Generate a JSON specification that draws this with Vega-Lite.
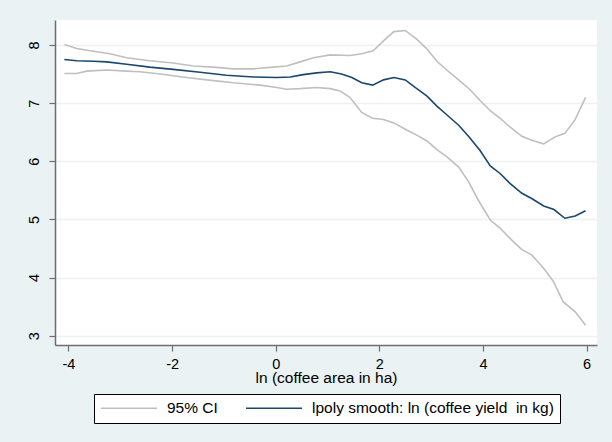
{
  "$schema": "https://vega.github.io/schema/vega-lite/v6.json",
  "autosize": {"type": "none"},
  "width": 542,
  "height": 325,
  "padding": {"left": 55, "top": 20, "right": 15, "bottom": 97},
  "background": "#EAF2F3",
  "config": {
    "font": "Liberation Sans",
    "view": {"fill": "white", "stroke": null},
    "axis": {"domainColor": "#6E6E6E", "domainWidth": 1.5, "tickColor": "#6E6E6E", "tickWidth": 1.2, "tickSize": 6, "labelFont": "Liberation Sans", "labelFontSize": 14.5, "labelColor": "black", "titleFont": "Liberation Sans", "titleFontWeight": "normal", "titleFontSize": 15.5, "titleColor": "black"}
  },
  "data": {"values": [
    {"x": -4.08, "y": 8.01, "s": "upper", "legend": "95% CI"},
    {"x": -3.84, "y": 7.94, "s": "upper", "legend": "95% CI"},
    {"x": -3.58, "y": 7.90, "s": "upper", "legend": "95% CI"},
    {"x": -3.20, "y": 7.85, "s": "upper", "legend": "95% CI"},
    {"x": -2.88, "y": 7.78, "s": "upper", "legend": "95% CI"},
    {"x": -2.43, "y": 7.73, "s": "upper", "legend": "95% CI"},
    {"x": -1.98, "y": 7.69, "s": "upper", "legend": "95% CI"},
    {"x": -1.59, "y": 7.64, "s": "upper", "legend": "95% CI"},
    {"x": -1.20, "y": 7.62, "s": "upper", "legend": "95% CI"},
    {"x": -0.82, "y": 7.59, "s": "upper", "legend": "95% CI"},
    {"x": -0.43, "y": 7.59, "s": "upper", "legend": "95% CI"},
    {"x": -0.05, "y": 7.62, "s": "upper", "legend": "95% CI"},
    {"x": 0.21, "y": 7.64, "s": "upper", "legend": "95% CI"},
    {"x": 0.47, "y": 7.71, "s": "upper", "legend": "95% CI"},
    {"x": 0.73, "y": 7.78, "s": "upper", "legend": "95% CI"},
    {"x": 1.05, "y": 7.83, "s": "upper", "legend": "95% CI"},
    {"x": 1.43, "y": 7.82, "s": "upper", "legend": "95% CI"},
    {"x": 1.66, "y": 7.85, "s": "upper", "legend": "95% CI"},
    {"x": 1.88, "y": 7.90, "s": "upper", "legend": "95% CI"},
    {"x": 2.08, "y": 8.07, "s": "upper", "legend": "95% CI"},
    {"x": 2.28, "y": 8.23, "s": "upper", "legend": "95% CI"},
    {"x": 2.50, "y": 8.25, "s": "upper", "legend": "95% CI"},
    {"x": 2.72, "y": 8.10, "s": "upper", "legend": "95% CI"},
    {"x": 2.92, "y": 7.93, "s": "upper", "legend": "95% CI"},
    {"x": 3.11, "y": 7.72, "s": "upper", "legend": "95% CI"},
    {"x": 3.30, "y": 7.57, "s": "upper", "legend": "95% CI"},
    {"x": 3.53, "y": 7.40, "s": "upper", "legend": "95% CI"},
    {"x": 3.75, "y": 7.23, "s": "upper", "legend": "95% CI"},
    {"x": 3.94, "y": 7.05, "s": "upper", "legend": "95% CI"},
    {"x": 4.14, "y": 6.87, "s": "upper", "legend": "95% CI"},
    {"x": 4.33, "y": 6.74, "s": "upper", "legend": "95% CI"},
    {"x": 4.52, "y": 6.59, "s": "upper", "legend": "95% CI"},
    {"x": 4.75, "y": 6.43, "s": "upper", "legend": "95% CI"},
    {"x": 4.94, "y": 6.36, "s": "upper", "legend": "95% CI"},
    {"x": 5.17, "y": 6.30, "s": "upper", "legend": "95% CI"},
    {"x": 5.39, "y": 6.42, "s": "upper", "legend": "95% CI"},
    {"x": 5.58, "y": 6.48, "s": "upper", "legend": "95% CI"},
    {"x": 5.78, "y": 6.72, "s": "upper", "legend": "95% CI"},
    {"x": 5.98, "y": 7.10, "s": "upper", "legend": "95% CI"},
    {"x": -4.08, "y": 7.51, "s": "lower", "legend": "95% CI"},
    {"x": -3.84, "y": 7.51, "s": "lower", "legend": "95% CI"},
    {"x": -3.65, "y": 7.55, "s": "lower", "legend": "95% CI"},
    {"x": -3.26, "y": 7.57, "s": "lower", "legend": "95% CI"},
    {"x": -2.88, "y": 7.55, "s": "lower", "legend": "95% CI"},
    {"x": -2.62, "y": 7.54, "s": "lower", "legend": "95% CI"},
    {"x": -2.23, "y": 7.50, "s": "lower", "legend": "95% CI"},
    {"x": -1.72, "y": 7.44, "s": "lower", "legend": "95% CI"},
    {"x": -1.33, "y": 7.40, "s": "lower", "legend": "95% CI"},
    {"x": -0.82, "y": 7.35, "s": "lower", "legend": "95% CI"},
    {"x": -0.30, "y": 7.31, "s": "lower", "legend": "95% CI"},
    {"x": 0.02, "y": 7.27, "s": "lower", "legend": "95% CI"},
    {"x": 0.21, "y": 7.24, "s": "lower", "legend": "95% CI"},
    {"x": 0.47, "y": 7.25, "s": "lower", "legend": "95% CI"},
    {"x": 0.79, "y": 7.27, "s": "lower", "legend": "95% CI"},
    {"x": 1.05, "y": 7.25, "s": "lower", "legend": "95% CI"},
    {"x": 1.24, "y": 7.21, "s": "lower", "legend": "95% CI"},
    {"x": 1.43, "y": 7.10, "s": "lower", "legend": "95% CI"},
    {"x": 1.66, "y": 6.84, "s": "lower", "legend": "95% CI"},
    {"x": 1.87, "y": 6.74, "s": "lower", "legend": "95% CI"},
    {"x": 2.08, "y": 6.72, "s": "lower", "legend": "95% CI"},
    {"x": 2.28, "y": 6.66, "s": "lower", "legend": "95% CI"},
    {"x": 2.50, "y": 6.55, "s": "lower", "legend": "95% CI"},
    {"x": 2.72, "y": 6.45, "s": "lower", "legend": "95% CI"},
    {"x": 2.92, "y": 6.35, "s": "lower", "legend": "95% CI"},
    {"x": 3.11, "y": 6.20, "s": "lower", "legend": "95% CI"},
    {"x": 3.30, "y": 6.08, "s": "lower", "legend": "95% CI"},
    {"x": 3.53, "y": 5.90, "s": "lower", "legend": "95% CI"},
    {"x": 3.72, "y": 5.65, "s": "lower", "legend": "95% CI"},
    {"x": 3.91, "y": 5.33, "s": "lower", "legend": "95% CI"},
    {"x": 4.14, "y": 4.99, "s": "lower", "legend": "95% CI"},
    {"x": 4.33, "y": 4.85, "s": "lower", "legend": "95% CI"},
    {"x": 4.56, "y": 4.64, "s": "lower", "legend": "95% CI"},
    {"x": 4.75, "y": 4.48, "s": "lower", "legend": "95% CI"},
    {"x": 4.94, "y": 4.39, "s": "lower", "legend": "95% CI"},
    {"x": 5.17, "y": 4.16, "s": "lower", "legend": "95% CI"},
    {"x": 5.36, "y": 3.93, "s": "lower", "legend": "95% CI"},
    {"x": 5.55, "y": 3.58, "s": "lower", "legend": "95% CI"},
    {"x": 5.78, "y": 3.41, "s": "lower", "legend": "95% CI"},
    {"x": 5.98, "y": 3.18, "s": "lower", "legend": "95% CI"},
    {"x": -4.08, "y": 7.75, "s": "fit", "legend": "lpoly smooth: ln (coffee yield\u00a0 in kg)"},
    {"x": -3.84, "y": 7.73, "s": "fit", "legend": "lpoly smooth: ln (coffee yield\u00a0 in kg)"},
    {"x": -3.52, "y": 7.72, "s": "fit", "legend": "lpoly smooth: ln (coffee yield\u00a0 in kg)"},
    {"x": -3.26, "y": 7.71, "s": "fit", "legend": "lpoly smooth: ln (coffee yield\u00a0 in kg)"},
    {"x": -2.88, "y": 7.67, "s": "fit", "legend": "lpoly smooth: ln (coffee yield\u00a0 in kg)"},
    {"x": -2.43, "y": 7.62, "s": "fit", "legend": "lpoly smooth: ln (coffee yield\u00a0 in kg)"},
    {"x": -1.98, "y": 7.58, "s": "fit", "legend": "lpoly smooth: ln (coffee yield\u00a0 in kg)"},
    {"x": -1.46, "y": 7.53, "s": "fit", "legend": "lpoly smooth: ln (coffee yield\u00a0 in kg)"},
    {"x": -0.95, "y": 7.48, "s": "fit", "legend": "lpoly smooth: ln (coffee yield\u00a0 in kg)"},
    {"x": -0.43, "y": 7.45, "s": "fit", "legend": "lpoly smooth: ln (coffee yield\u00a0 in kg)"},
    {"x": 0.02, "y": 7.44, "s": "fit", "legend": "lpoly smooth: ln (coffee yield\u00a0 in kg)"},
    {"x": 0.28, "y": 7.45, "s": "fit", "legend": "lpoly smooth: ln (coffee yield\u00a0 in kg)"},
    {"x": 0.53, "y": 7.49, "s": "fit", "legend": "lpoly smooth: ln (coffee yield\u00a0 in kg)"},
    {"x": 0.79, "y": 7.52, "s": "fit", "legend": "lpoly smooth: ln (coffee yield\u00a0 in kg)"},
    {"x": 1.05, "y": 7.54, "s": "fit", "legend": "lpoly smooth: ln (coffee yield\u00a0 in kg)"},
    {"x": 1.27, "y": 7.50, "s": "fit", "legend": "lpoly smooth: ln (coffee yield\u00a0 in kg)"},
    {"x": 1.47, "y": 7.44, "s": "fit", "legend": "lpoly smooth: ln (coffee yield\u00a0 in kg)"},
    {"x": 1.66, "y": 7.35, "s": "fit", "legend": "lpoly smooth: ln (coffee yield\u00a0 in kg)"},
    {"x": 1.87, "y": 7.31, "s": "fit", "legend": "lpoly smooth: ln (coffee yield\u00a0 in kg)"},
    {"x": 2.08, "y": 7.40, "s": "fit", "legend": "lpoly smooth: ln (coffee yield\u00a0 in kg)"},
    {"x": 2.28, "y": 7.44, "s": "fit", "legend": "lpoly smooth: ln (coffee yield\u00a0 in kg)"},
    {"x": 2.50, "y": 7.40, "s": "fit", "legend": "lpoly smooth: ln (coffee yield\u00a0 in kg)"},
    {"x": 2.69, "y": 7.27, "s": "fit", "legend": "lpoly smooth: ln (coffee yield\u00a0 in kg)"},
    {"x": 2.92, "y": 7.12, "s": "fit", "legend": "lpoly smooth: ln (coffee yield\u00a0 in kg)"},
    {"x": 3.11, "y": 6.95, "s": "fit", "legend": "lpoly smooth: ln (coffee yield\u00a0 in kg)"},
    {"x": 3.30, "y": 6.80, "s": "fit", "legend": "lpoly smooth: ln (coffee yield\u00a0 in kg)"},
    {"x": 3.53, "y": 6.62, "s": "fit", "legend": "lpoly smooth: ln (coffee yield\u00a0 in kg)"},
    {"x": 3.72, "y": 6.43, "s": "fit", "legend": "lpoly smooth: ln (coffee yield\u00a0 in kg)"},
    {"x": 3.94, "y": 6.19, "s": "fit", "legend": "lpoly smooth: ln (coffee yield\u00a0 in kg)"},
    {"x": 4.14, "y": 5.92, "s": "fit", "legend": "lpoly smooth: ln (coffee yield\u00a0 in kg)"},
    {"x": 4.33, "y": 5.79, "s": "fit", "legend": "lpoly smooth: ln (coffee yield\u00a0 in kg)"},
    {"x": 4.52, "y": 5.62, "s": "fit", "legend": "lpoly smooth: ln (coffee yield\u00a0 in kg)"},
    {"x": 4.75, "y": 5.45, "s": "fit", "legend": "lpoly smooth: ln (coffee yield\u00a0 in kg)"},
    {"x": 4.94, "y": 5.36, "s": "fit", "legend": "lpoly smooth: ln (coffee yield\u00a0 in kg)"},
    {"x": 5.17, "y": 5.23, "s": "fit", "legend": "lpoly smooth: ln (coffee yield\u00a0 in kg)"},
    {"x": 5.37, "y": 5.17, "s": "fit", "legend": "lpoly smooth: ln (coffee yield\u00a0 in kg)"},
    {"x": 5.58, "y": 5.02, "s": "fit", "legend": "lpoly smooth: ln (coffee yield\u00a0 in kg)"},
    {"x": 5.78, "y": 5.06, "s": "fit", "legend": "lpoly smooth: ln (coffee yield\u00a0 in kg)"},
    {"x": 5.98, "y": 5.15, "s": "fit", "legend": "lpoly smooth: ln (coffee yield\u00a0 in kg)"}
  ]},
  "mark": {"type": "line", "strokeWidth": 1.6, "clip": true},
  "encoding": {
    "x": {"field": "x", "type": "quantitative", "title": "ln (coffee area in ha)",
      "scale": {"domain": [-4.26, 6.2], "nice": false, "zero": false},
      "axis": {"values": [-4, -2, 0, 2, 4, 6], "grid": false, "labelPadding": 6, "titlePadding": 0, "labelFlush": false, "labelExpr": "replace(datum.label, '\u2212', '-')"}},
    "y": {"field": "y", "type": "quantitative", "title": null,
      "scale": {"domain": [2.84, 8.43], "nice": false, "zero": false},
      "axis": {"values": [3, 4, 5, 6, 7, 8], "grid": true, "gridColor": "#EAF2F3", "gridWidth": 1.5, "labelAngle": -90, "labelAlign": "center", "labelBaseline": "bottom", "labelPadding": 8, "labelFlush": false}},
    "color": {"field": "legend", "type": "nominal", "title": null,
      "scale": {"domain": ["95% CI", "lpoly smooth: ln (coffee yield\u00a0 in kg)"], "range": ["#BFBFBF", "#1A476F"]},
      "legend": {"orient": "none", "legendX": 39, "legendY": 374, "direction": "horizontal", "columns": 2,
        "symbolType": "M-1,0H7", "symbolSize": 196, "symbolStrokeWidth": 1.6,
        "labelFontSize": 15.5, "labelColor": "black", "labelOffset": 51, "columnPadding": 24,
        "padding": 6, "strokeColor": "black", "fillColor": "white", "labelLimit": 400}},
    "detail": {"field": "s", "type": "nominal"}
  }
}
